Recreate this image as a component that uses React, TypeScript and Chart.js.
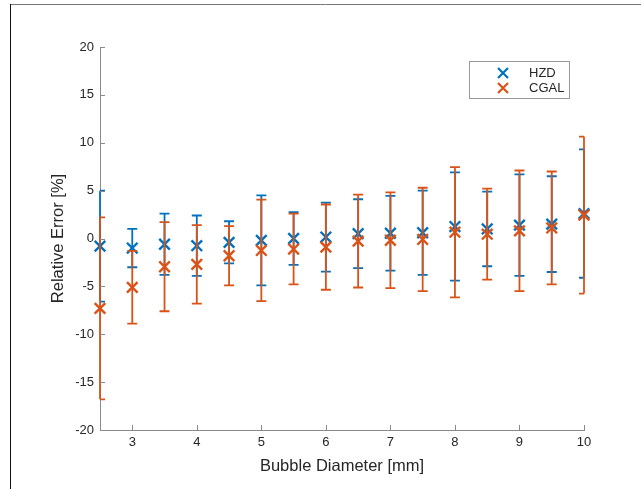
import React, { useEffect, useRef } from "react";
import { Chart, registerables } from "chart.js";

Chart.register(...registerables);

// ---- data ----
const xValues = [2.5, 3, 3.5, 4, 4.5, 5, 5.5, 6, 6.5, 7, 7.5, 8, 8.5, 9, 9.5, 10];
const hzdMean = [-0.8, -1.0, -0.6, -0.75, -0.4, -0.2, 0.0, 0.15, 0.5, 0.55, 0.6, 1.25, 1.0, 1.4, 1.5, 2.6];
const hzdErr = [5.8, 2.0, 3.2, 3.15, 2.2, 4.7, 2.75, 3.6, 3.6, 3.9, 4.4, 5.65, 3.9, 5.3, 5.0, 6.7];
const cgalMean = [-7.3, -5.1, -2.95, -2.7, -1.8, -1.25, -1.1, -0.9, -0.27, -0.18, -0.1, 0.66, 0.45, 0.8, 1.1, 2.45];
const cgalErr = [9.5, 3.8, 4.65, 4.1, 3.1, 5.3, 3.7, 4.45, 4.85, 5.0, 5.4, 6.8, 4.75, 6.3, 5.9, 8.2];
const xTicks = [3, 4, 5, 6, 7, 8, 9, 10];
const yTicks = [-20, -15, -10, -5, 0, 5, 10, 15, 20];
const seriesNames = ["HZD", "CGAL"];
const xTitle = "Bubble Diameter [mm]";
const yTitle = "Relative Error [%]";

const BLUE = "#0072BD";
const ORANGE = "#D95319";
const FONT = "'Liberation Sans', Arial, Helvetica, sans-serif";
const TEXT = "#262626";
const AXIS = "#8a8a8a";

export default function App() {
  const ref = useRef<HTMLCanvasElement>(null);

  useEffect(() => {
    document.body.style.margin = "0";
    const canvas = ref.current;
    if (!canvas) return;

    const errorBars = {
      id: "errorBars",
      beforeDatasetDraw(chart: any, args: any) {
        const ds: any = chart.data.datasets[args.index];
        const errs: number[] = ds.errors;
        if (!errs) return;
        const { ctx, chartArea } = chart;
        const xs = chart.scales.x;
        const ys = chart.scales.y;
        ctx.save();
        ctx.beginPath();
        ctx.rect(chartArea.left - 1.5, chartArea.top - 2, chartArea.right - chartArea.left + 3, chartArea.bottom - chartArea.top + 4);
        ctx.clip();
        ctx.strokeStyle = ds.borderColor;
        ctx.lineWidth = 1.8;
        ds.data.forEach((p: any, i: number) => {
          const px = xs.getPixelForValue(p.x);
          const yt = ys.getPixelForValue(p.y + errs[i]);
          const yb = ys.getPixelForValue(p.y - errs[i]);
          const cap = 5;
          ctx.beginPath();
          ctx.moveTo(px, yt);
          ctx.lineTo(px, yb);
          ctx.stroke();
          ctx.save();
          ctx.beginPath();
          ctx.rect(chartArea.left, chartArea.top - 2, chartArea.right - chartArea.left, chartArea.bottom - chartArea.top + 4);
          ctx.clip();
          ctx.beginPath();
          ctx.moveTo(px - cap, yt);
          ctx.lineTo(px + cap, yt);
          ctx.moveTo(px - cap, yb);
          ctx.lineTo(px + cap, yb);
          ctx.stroke();
          ctx.restore();
        });
        ctx.restore();
      },
    };

    const decorations = {
      id: "decorations",
      beforeDraw(chart: any) {
        const { ctx, width, height } = chart;
        ctx.save();
        ctx.fillStyle = "#ffffff";
        ctx.fillRect(0, 0, width, height);
        // figure frame
        ctx.lineWidth = 1;
        ctx.strokeStyle = "#777777";
        ctx.beginPath();
        ctx.moveTo(10, 4.5);
        ctx.lineTo(width, 4.5);
        ctx.stroke();
        ctx.strokeStyle = "#111111";
        ctx.beginPath();
        ctx.moveTo(10.5, 4);
        ctx.lineTo(10.5, height);
        ctx.stroke();
        ctx.restore();
      },
      afterDraw(chart: any) {
        const { ctx, chartArea } = chart;
        const xs = chart.scales.x;
        const ys = chart.scales.y;
        ctx.save();
        ctx.strokeStyle = AXIS;
        ctx.lineWidth = 1;
        const tl = 5;
        ctx.beginPath();
        xs.ticks.forEach((t: any) => {
          const px = Math.round(xs.getPixelForValue(t.value)) + 0.5;
          ctx.moveTo(px, chartArea.bottom);
          ctx.lineTo(px, chartArea.bottom - tl);
        });
        ys.ticks.forEach((t: any) => {
          const py = Math.round(ys.getPixelForValue(t.value)) + 0.5;
          ctx.moveTo(chartArea.left, py);
          ctx.lineTo(chartArea.left + tl, py);
        });
        ctx.stroke();

        // legend
        const bx = 469.5, by = 61.5, bw = 100, bh = 37;
        ctx.fillStyle = "#ffffff";
        ctx.fillRect(bx, by, bw, bh);
        ctx.strokeStyle = "#999999";
        ctx.strokeRect(bx, by, bw, bh);
        const rows = [73, 88];
        chart.data.datasets.forEach((ds: any, i: number) => {
          const cy = rows[i];
          const cx = 503;
          const r = 5;
          ctx.strokeStyle = ds.borderColor;
          ctx.lineWidth = 2.2;
          ctx.beginPath();
          ctx.moveTo(cx - r, cy - r);
          ctx.lineTo(cx + r, cy + r);
          ctx.moveTo(cx - r, cy + r);
          ctx.lineTo(cx + r, cy - r);
          ctx.stroke();
          ctx.fillStyle = TEXT;
          ctx.font = `13px ${FONT}`;
          ctx.textAlign = "left";
          ctx.textBaseline = "middle";
          ctx.fillText(ds.label, 529, cy);
        });
        ctx.restore();
      },
    };

    const chart = new Chart(canvas, {
      type: "scatter",
      data: {
        datasets: [
          {
            label: seriesNames[0],
            data: xValues.map((x, i) => ({ x, y: hzdMean[i] })),
            errors: hzdErr,
            borderColor: BLUE,
            backgroundColor: BLUE,
            pointStyle: "crossRot",
            pointRadius: 7.5,
            pointBorderWidth: 2.4,
            showLine: false,
            clip: false,
            order: 2,
          } as any,
          {
            label: seriesNames[1],
            data: xValues.map((x, i) => ({ x, y: cgalMean[i] })),
            errors: cgalErr,
            borderColor: ORANGE,
            backgroundColor: ORANGE,
            pointStyle: "crossRot",
            pointRadius: 7.5,
            pointBorderWidth: 2.4,
            showLine: false,
            clip: false,
            order: 1,
          } as any,
        ],
      },
      options: {
        responsive: false,
        animation: false,
        layout: { padding: { top: 47, right: 57, left: 0, bottom: 0 } },
        plugins: {
          legend: { display: false },
          tooltip: { enabled: false },
        },
        scales: {
          x: {
            type: "linear",
            min: 2.5,
            max: 10,
            afterBuildTicks: (scale: any) => {
              scale.ticks = xTicks.map((v) => ({ value: v }));
            },
            afterFit: (scale: any) => {
              scale.height = 59;
            },
            grid: { display: false, drawTicks: false },
            border: { display: true, color: AXIS, width: 1 },
            ticks: {
              color: TEXT,
              font: { family: FONT, size: 13 },
              padding: 5,
              maxRotation: 0,
              callback: (v: any) => String(v),
            },
            title: {
              display: true,
              text: xTitle,
              color: TEXT,
              font: { family: FONT, size: 16.5 },
              padding: { top: 0, bottom: 13 },
            },
          },
          y: {
            type: "linear",
            min: -20,
            max: 20,
            afterBuildTicks: (scale: any) => {
              scale.ticks = yTicks.map((v) => ({ value: v }));
            },
            afterFit: (scale: any) => {
              scale.width = 100;
            },
            grid: { display: false, drawTicks: false },
            border: { display: true, color: AXIS, width: 1 },
            ticks: {
              color: TEXT,
              font: { family: FONT, size: 13 },
              padding: 6,
              callback: (v: any) => String(v),
            },
            title: {
              display: true,
              text: yTitle,
              color: TEXT,
              font: { family: FONT, size: 16.5 },
              padding: { top: 49, bottom: 0 },
            },
          },
        },
      },
      plugins: [errorBars, decorations],
    } as any);

    return () => chart.destroy();
  }, []);

  return (
    <div style={{ width: 641, height: 489 }}>
      <canvas ref={ref} width={641} height={489} style={{ display: "block" }} />
    </div>
  );
}
